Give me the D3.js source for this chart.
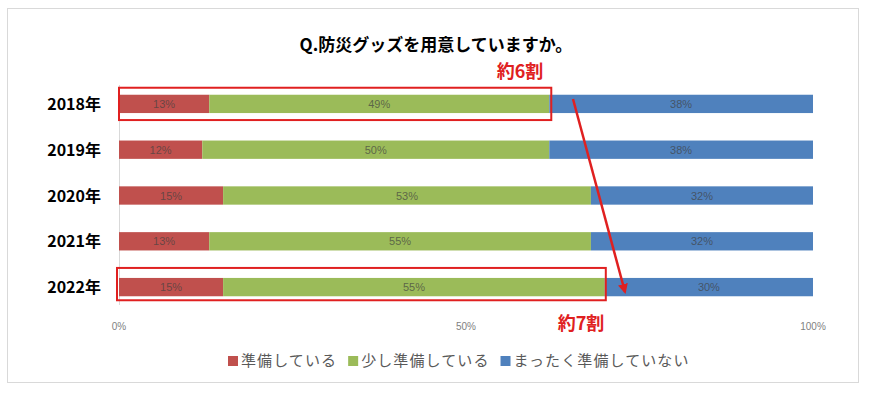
<!DOCTYPE html>
<html>
<head>
<meta charset="utf-8">
<script src="https://cdn.jsdelivr.net/npm/d3@7"></script>
<style>
  body { margin: 0; background: #fff; }
  svg { font-family: "Noto Sans CJK JP", "Noto Sans", sans-serif; }
</style>
</head>
<body>
<div id="chart"></div>
<script>
// data
const years = ['2018年', '2019年', '2020年', '2021年', '2022年'];
const seriesNames = ['準備している', '少し準備している', 'まったく準備していない'];
const prepared = [13, 12, 15, 13, 15];
const somewhat = [49, 50, 53, 55, 55];
const notAtAll = [38, 38, 32, 32, 30];
const xTicks = [0, 50, 100];
const colors = ['#c0504d', '#9bbb59', '#4f81bd'];

const width = 870, height = 393;

let svg = d3.select('#chart').append('svg')
    .attr('width', width)
    .attr('height', height);

// outer frame
svg.append('rect')
    .attr('x', 7.5).attr('y', 8.5)
    .attr('width', 851).attr('height', 374)
    .attr('fill', '#fff')
    .attr('stroke', '#d9d9d9');

svg.append('text')
    .attr('x', 436).attr('y', 51)
    .attr('text-anchor', 'middle')
    .attr('font-size', 17).attr('font-weight', 'bold')
    .attr('fill', '#000')
    .text('Q.防災グッズを用意していますか。');

let x = d3.scaleLinear().domain([0, 100]).range([119, 813]);
let y = d3.scaleBand().domain(years).range([81, 310]).paddingInner(0.6).paddingOuter(0.3);

// build stacked rows
let rows = years.map((yr, i) => ({ year: yr, v: [prepared[i], somewhat[i], notAtAll[i]] }));
let stack = d3.stack().keys([0, 1, 2]).value((d, k) => d.v[k]);
let layers = stack(rows);

// axis line
svg.append('line')
    .attr('x1', x(0) + 0.5).attr('x2', x(0) + 0.5)
    .attr('y1', 85).attr('y2', 305)
    .attr('stroke', '#d9d9d9');

let layerG = svg.selectAll('g.layer').data(layers).enter()
  .append('g').attr('class', 'layer')
    .attr('fill', (d, i) => colors[i]);

layerG.selectAll('rect').data(d => d).enter()
  .append('rect')
    .attr('x', d => x(d[0]))
    .attr('y', d => y(d.data.year))
    .attr('width', d => x(d[1]) - x(d[0]))
    .attr('height', y.bandwidth());

layerG.selectAll('text').data(d => d).enter()
  .append('text')
    .attr('x', d => (x(d[0]) + x(d[1])) / 2)
    .attr('y', d => y(d.data.year) + y.bandwidth() / 2 + 4)
    .attr('text-anchor', 'middle')
    .attr('font-size', 11)
    .attr('font-family', '"Liberation Sans", sans-serif')
    .attr('fill', '#404040')
    .attr('fill-opacity', 0.7)
    .text(d => (d[1] - d[0]) + '%');

// year labels
svg.selectAll('text.year').data(years).enter()
  .append('text').attr('class', 'year')
    .attr('x', 101)
    .attr('y', d => y(d) + y.bandwidth() / 2 + 6)
    .attr('text-anchor', 'end')
    .attr('font-size', 16).attr('font-weight', 'bold')
    .attr('fill', '#000')
    .text(d => d);

// x tick labels
svg.selectAll('text.tick').data(xTicks).enter()
  .append('text').attr('class', 'tick')
    .attr('x', d => x(d))
    .attr('y', 330)
    .attr('text-anchor', 'middle')
    .attr('font-size', 10)
    .attr('font-family', '"Liberation Sans", sans-serif')
    .attr('fill', '#7f7f7f')
    .text(d => d + '%');

// legend, laid out by measured text width
let legend = svg.selectAll('g.legend').data(seriesNames).enter()
  .append('g').attr('class', 'legend');
legend.append('rect')
    .attr('x', 0).attr('y', -10)
    .attr('width', 10).attr('height', 10)
    .attr('fill', (d, i) => colors[i]);
legend.append('text')
    .attr('x', 13).attr('y', 0)
    .attr('font-size', 15)
    .attr('letter-spacing', 1.1)
    .attr('fill', '#595959')
    .text(d => d);
let lx = 228;
legend.each(function() {
    let g = d3.select(this);
    g.attr('transform', `translate(${lx},366)`);
    lx += 13 + g.select('text').node().getComputedTextLength() + 11;
});

// annotations: boxes around 2018 and 2022
let first = rows[0], last = rows[rows.length - 1];
let pad = 7;
svg.append('rect')
    .attr('x', x(0)).attr('y', y(first.year) - pad)
    .attr('width', x(first.v[0] + first.v[1]) - x(0) + 2)
    .attr('height', y.bandwidth() + pad * 2)
    .attr('fill', 'none').attr('stroke', '#e02020').attr('stroke-width', 2);
svg.append('rect')
    .attr('x', x(0) - 2).attr('y', y(last.year) - 10)
    .attr('width', x(last.v[0] + last.v[1]) - x(0) + 3)
    .attr('height', y.bandwidth() + 14)
    .attr('fill', 'none').attr('stroke', '#e02020').attr('stroke-width', 2);

svg.append('text')
    .attr('x', 520).attr('y', 78)
    .attr('text-anchor', 'middle')
    .attr('font-size', 18).attr('font-weight', 'bold')
    .attr('fill', '#e02020')
    .text('約6割');
svg.append('text')
    .attr('x', 581).attr('y', 330)
    .attr('text-anchor', 'middle')
    .attr('font-size', 18).attr('font-weight', 'bold')
    .attr('fill', '#e02020')
    .text('約7割');

// arrow
svg.append('defs').append('marker')
    .attr('id', 'arrow')
    .attr('viewBox', '0 0 10 10')
    .attr('refX', 8).attr('refY', 5)
    .attr('markerWidth', 4).attr('markerHeight', 4)
    .attr('orient', 'auto')
  .append('path')
    .attr('d', 'M0,0 L10,5 L0,10 z')
    .attr('fill', '#e02020');
svg.append('line')
    .attr('x1', 573).attr('y1', 99)
    .attr('x2', 625).attr('y2', 292)
    .attr('stroke', '#e02020').attr('stroke-width', 2.5)
    .attr('marker-end', 'url(#arrow)');
</script>
</body>
</html>
